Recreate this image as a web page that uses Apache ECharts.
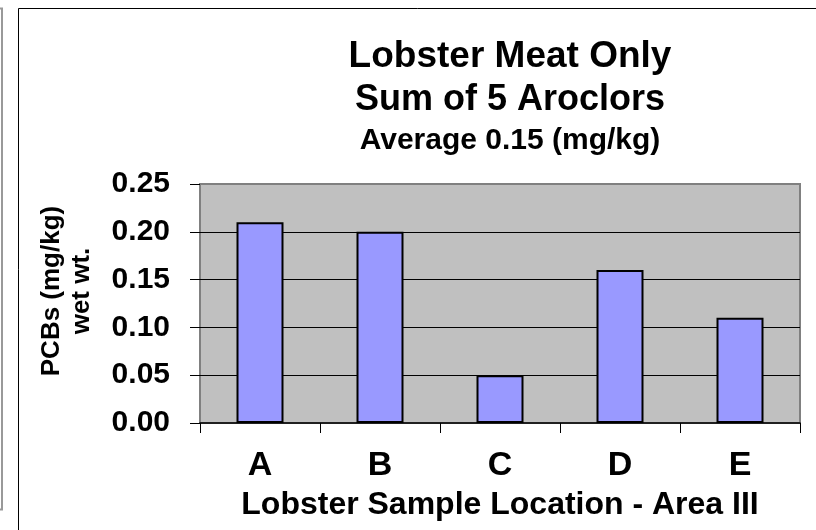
<!DOCTYPE html>
<html>
<head>
<meta charset="utf-8">
<script src="https://cdn.jsdelivr.net/npm/echarts@6/dist/echarts.min.js"></script>
<style>
html,body{margin:0;padding:0;background:#fff;}
#chart{width:816px;height:530px;}
</style>
</head>
<body>
<div id="chart"></div>
<script>
var categories = ['A', 'B', 'C', 'D', 'E'];
var pcbValues = [0.21, 0.20, 0.05, 0.16, 0.11];
var titleLines = ['Lobster Meat Only', 'Sum of 5 Aroclors', 'Average 0.15 (mg/kg)'];
var yAxisTitle = 'PCBs (mg/kg)\nwet wt.';
var xAxisTitle = 'Lobster Sample Location - Area III';
var yMin = 0, yMax = 0.25, yStep = 0.05;

var FONT = '"Liberation Sans", Arial, sans-serif';
var chart = echarts.init(document.getElementById('chart'), null, {renderer: 'canvas'});
chart.setOption({
  backgroundColor: '#ffffff',
  animation: false,
  title: [
    {text: titleLines[0], left: 510, top: 38, textAlign: 'center', padding: 0,
     textStyle: {fontFamily: FONT, fontWeight: 'bold', fontSize: 37, color: '#000'}},
    {text: titleLines[1], left: 510, top: 82, textAlign: 'center', padding: 0,
     textStyle: {fontFamily: FONT, fontWeight: 'bold', fontSize: 36, color: '#000'}},
    {text: titleLines[2], left: 510, top: 126, textAlign: 'center', padding: 0,
     textStyle: {fontFamily: FONT, fontWeight: 'bold', fontSize: 30, color: '#000'}}
  ],
  graphic: [
    {type: 'rect', shape: {x: -100, y: 8.5, width: 102, height: 501}, z: 100,
     style: {fill: 'none', stroke: '#999999', lineWidth: 2}},
    {type: 'rect', shape: {x: 18.5, y: 8.5, width: 900, height: 600}, z: 100,
     style: {fill: 'none', stroke: '#000000', lineWidth: 1}},
    {type: 'text', x: 67, y: 291, rotation: Math.PI / 2, z: 100,
     style: {text: yAxisTitle, fontFamily: FONT, fontWeight: 'bold', fontSize: 26,
             lineHeight: 30, textAlign: 'center', textVerticalAlign: 'middle', fill: '#000'}}
  ],
  grid: {
    left: 200, top: 184, right: 16, bottom: 107,
    outerBoundsMode: 'none', containLabel: false,
    show: true, backgroundColor: '#c0c0c0', borderColor: '#808080', borderWidth: 2
  },
  xAxis: {
    type: 'category',
    data: categories,
    boundaryGap: true,
    name: xAxisTitle,
    nameLocation: 'middle',
    nameGap: 66,
    nameTextStyle: {fontFamily: FONT, fontWeight: 'bold', fontSize: 32, color: '#000'},
    axisLine: {show: true, lineStyle: {color: '#000', width: 1.5}},
    axisTick: {show: true, length: 10, alignWithLabel: false, lineStyle: {color: '#000', width: 1}},
    axisLabel: {fontFamily: FONT, fontWeight: 'bold', fontSize: 34, color: '#000', margin: 26},
    splitLine: {show: false}
  },
  yAxis: {
    type: 'value',
    min: yMin, max: yMax, interval: yStep,
    axisLine: {show: false},
    axisTick: {show: true, length: 10, lineStyle: {color: '#000', width: 1}},
    axisLabel: {fontFamily: FONT, fontWeight: 'bold', fontSize: 30, color: '#000', margin: 30,
                formatter: function (v) { return v.toFixed(2); }},
    splitLine: {show: true, showMaxLine: false, showMinLine: false, lineStyle: {color: '#000', width: 1}}
  },
  series: [{
    type: 'bar',
    data: pcbValues,
    barWidth: 47,
    itemStyle: {color: '#9999ff', borderColor: '#000', borderWidth: 2}
  }]
});
</script>
</body>
</html>
